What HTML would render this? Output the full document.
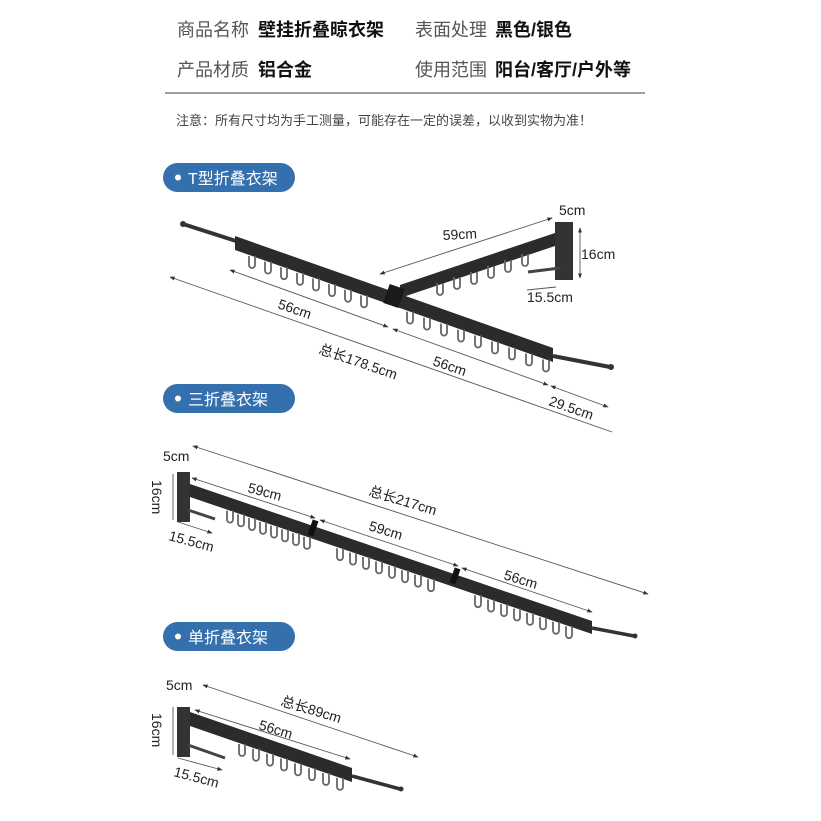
<!DOCTYPE html>
<html><head><meta charset="utf-8"><style>
html,body{margin:0;padding:0;background:#fff;}
svg{display:block;font-family:"Liberation Sans","Noto Sans CJK SC",sans-serif;}
.g{fill:#555;font-size:18px;}
.b{fill:#111;font-size:18px;font-weight:bold;}
.d{fill:#222;font-size:14px;}
.dl{stroke:#555;stroke-width:0.9;fill:none;}
</style></head><body>
<svg width="821" height="821" viewBox="0 0 821 821" xmlns="http://www.w3.org/2000/svg">
<defs>
<path id="hk" d="M-3,0 v9 a3,3 0 0 0 6,0 v-9" fill="none" stroke="#666" stroke-width="1.8"/>
<marker id="ar" viewBox="0 0 8 8" refX="7" refY="4" markerWidth="6" markerHeight="6" orient="auto-start-reverse"><path d="M0,1 L8,4 L0,7z" fill="#333"/></marker>
</defs>
<text x="177" y="36" class="g">商品名称</text><text x="258" y="36" class="b">壁挂折叠晾衣架</text>
<text x="415" y="36" class="g">表面处理</text><text x="495" y="36" class="b">黑色/银色</text>
<text x="177" y="76" class="g">产品材质</text><text x="258" y="76" class="b">铝合金</text>
<text x="415" y="76" class="g">使用范围</text><text x="495" y="76" class="b">阳台/客厅/户外等</text>
<line x1="165" y1="93" x2="645" y2="93" stroke="#666" stroke-width="1.2"/>
<text x="176" y="125" fill="#444" font-size="13">注意：所有尺寸均为手工测量，可能存在一定的误差，以收到实物为准！</text>

<g><rect x="163" y="163" width="132" height="29" rx="14.5" fill="#3370ad"/><circle cx="178" cy="177.5" r="3" fill="#fff"/><text x="188" y="184" fill="#fff" font-size="16">T型折叠衣架</text></g>
<g><rect x="163" y="384" width="132" height="29" rx="14.5" fill="#3370ad"/><circle cx="178" cy="398.5" r="3" fill="#fff"/><text x="188" y="405" fill="#fff" font-size="16">三折叠衣架</text></g>
<g><rect x="163" y="622" width="132" height="29" rx="14.5" fill="#3370ad"/><circle cx="178" cy="636.5" r="3" fill="#fff"/><text x="188" y="643" fill="#fff" font-size="16">单折叠衣架</text></g>

<line x1="183" y1="224" x2="236" y2="241" stroke="#333" stroke-width="4"/>
<circle cx="183" cy="224" r="3" fill="#333"/>
<rect x="555" y="222" width="18" height="58" fill="#333"/>
<line x1="528" y1="272" x2="560" y2="268" stroke="#444" stroke-width="3"/>
<polygon points="400,285 555,233 555,246 400,298" fill="#2b2b2b"/>
<g>
<use href="#hk" x="440" y="283"/><use href="#hk" x="457" y="277"/><use href="#hk" x="474" y="272"/><use href="#hk" x="491" y="266"/><use href="#hk" x="508" y="260"/><use href="#hk" x="525" y="254"/>
</g>
<polygon points="235,236 553,348 553,362 235,250" fill="#2b2b2b"/>
<rect x="386" y="286" width="16" height="20" fill="#1a1a1a" transform="rotate(19 394 296)"/>
<line x1="553" y1="356" x2="610" y2="367" stroke="#333" stroke-width="4"/>
<circle cx="611" cy="367" r="3" fill="#333"/>
<g>
<use href="#hk" x="252" y="256"/><use href="#hk" x="268" y="261.6"/><use href="#hk" x="284" y="267.2"/><use href="#hk" x="300" y="272.9"/><use href="#hk" x="316" y="278.5"/><use href="#hk" x="332" y="284.1"/><use href="#hk" x="348" y="289.8"/><use href="#hk" x="364" y="295.4"/>
<use href="#hk" x="410" y="311.6"/><use href="#hk" x="427" y="317.6"/><use href="#hk" x="444" y="323.6"/><use href="#hk" x="461" y="329.6"/><use href="#hk" x="478" y="335.5"/><use href="#hk" x="495" y="341.5"/><use href="#hk" x="512" y="347.5"/><use href="#hk" x="529" y="353.5"/><use href="#hk" x="546" y="359.5"/>
</g>
<line class="dl" x1="380" y1="274" x2="552" y2="218" marker-start="url(#ar)" marker-end="url(#ar)"/>
<line class="dl" x1="580" y1="228" x2="580" y2="278" marker-start="url(#ar)" marker-end="url(#ar)"/>
<line class="dl" x1="527" y1="290" x2="556" y2="287"/>
<line class="dl" x1="230" y1="270" x2="388" y2="327" marker-start="url(#ar)" marker-end="url(#ar)"/>
<line class="dl" x1="393" y1="329" x2="548" y2="385" marker-start="url(#ar)" marker-end="url(#ar)"/>
<line class="dl" x1="551" y1="386" x2="608" y2="407" marker-start="url(#ar)" marker-end="url(#ar)"/>
<line class="dl" x1="170" y1="277" x2="612" y2="432" marker-start="url(#ar)"/>
<text x="559" y="215" class="d">5cm</text>
<text x="443" y="240" class="d" transform="rotate(-3 443 240)">59cm</text>
<text x="581" y="259" class="d">16cm</text>
<text x="527" y="302" class="d">15.5cm</text>
<text x="277" y="308" class="d" transform="rotate(19 277 308)">56cm</text>
<text x="432" y="365" class="d" transform="rotate(19 432 365)">56cm</text>
<text x="318" y="353" class="d" transform="rotate(19 318 353)">总长178.5cm</text>
<text x="548" y="405" class="d" transform="rotate(19 548 405)">29.5cm</text>

<rect x="177" y="472" width="13" height="50" fill="#333"/>
<line x1="188" y1="510" x2="215" y2="519" stroke="#444" stroke-width="3"/>
<polygon points="190,484 592,621 592,634 190,497" fill="#2b2b2b"/>
<rect x="310" y="520" width="6" height="16" fill="#111" transform="rotate(19 313 528)"/>
<rect x="452" y="568" width="6" height="16" fill="#111" transform="rotate(19 455 576)"/>
<line x1="592" y1="628" x2="634" y2="636" stroke="#333" stroke-width="3.5"/>
<circle cx="635" cy="636" r="2.5" fill="#333"/>
<g>
<use href="#hk" x="230" y="510.6"/><use href="#hk" x="241" y="514.4"/><use href="#hk" x="252" y="518.1"/><use href="#hk" x="263" y="521.9"/><use href="#hk" x="274" y="525.6"/><use href="#hk" x="285" y="529.4"/><use href="#hk" x="296" y="533.1"/><use href="#hk" x="307" y="536.9"/>
<use href="#hk" x="340" y="548.2"/><use href="#hk" x="353" y="552.6"/><use href="#hk" x="366" y="557"/><use href="#hk" x="379" y="561.4"/><use href="#hk" x="392" y="565.9"/><use href="#hk" x="405" y="570.3"/><use href="#hk" x="418" y="574.7"/><use href="#hk" x="431" y="579.2"/>
<use href="#hk" x="478" y="595.2"/><use href="#hk" x="491" y="599.6"/><use href="#hk" x="504" y="604.1"/><use href="#hk" x="517" y="608.5"/><use href="#hk" x="530" y="612.9"/><use href="#hk" x="543" y="617.4"/><use href="#hk" x="556" y="621.8"/><use href="#hk" x="569" y="626.2"/>
</g>
<line class="dl" x1="193" y1="446" x2="648" y2="594" marker-start="url(#ar)" marker-end="url(#ar)"/>
<line class="dl" x1="192" y1="478" x2="315" y2="518" marker-start="url(#ar)" marker-end="url(#ar)"/>
<line class="dl" x1="320" y1="520" x2="458" y2="566" marker-start="url(#ar)" marker-end="url(#ar)"/>
<line class="dl" x1="462" y1="568" x2="592" y2="612" marker-start="url(#ar)" marker-end="url(#ar)"/>
<line class="dl" x1="173" y1="474" x2="173" y2="520"/>
<line class="dl" x1="178" y1="522" x2="212" y2="533" marker-end="url(#ar)"/>
<text x="163" y="461" class="d">5cm</text>
<text x="152" y="480" class="d" transform="rotate(90 152 480)">16cm</text>
<text x="168" y="540" class="d" transform="rotate(15 168 540)">15.5cm</text>
<text x="247" y="492" class="d" transform="rotate(15 247 492)">59cm</text>
<text x="368" y="530" class="d" transform="rotate(17 368 530)">59cm</text>
<text x="368" y="495" class="d" transform="rotate(17 368 495)">总长217cm</text>
<text x="503" y="579" class="d" transform="rotate(17 503 579)">56cm</text>

<rect x="177" y="707" width="13" height="50" fill="#333"/>
<line x1="188" y1="745" x2="225" y2="758" stroke="#444" stroke-width="3"/>
<polygon points="190,712 352,768 352,782 190,726" fill="#2b2b2b"/>
<line x1="352" y1="776" x2="400" y2="789" stroke="#333" stroke-width="3.5"/>
<circle cx="401" cy="789" r="2.5" fill="#333"/>
<g>
<use href="#hk" x="242" y="744"/><use href="#hk" x="256" y="748.8"/><use href="#hk" x="270" y="753.7"/><use href="#hk" x="284" y="758.5"/><use href="#hk" x="298" y="763.4"/><use href="#hk" x="312" y="768.2"/><use href="#hk" x="326" y="773"/><use href="#hk" x="340" y="777.9"/>
</g>
<line class="dl" x1="203" y1="685" x2="418" y2="757" marker-start="url(#ar)" marker-end="url(#ar)"/>
<line class="dl" x1="195" y1="710" x2="350" y2="759" marker-start="url(#ar)" marker-end="url(#ar)"/>
<line class="dl" x1="173" y1="707" x2="173" y2="755"/>
<line class="dl" x1="178" y1="758" x2="222" y2="770" marker-end="url(#ar)"/>
<text x="166" y="690" class="d">5cm</text>
<text x="152" y="713" class="d" transform="rotate(90 152 713)">16cm</text>
<text x="173" y="776" class="d" transform="rotate(15 173 776)">15.5cm</text>
<text x="258" y="729" class="d" transform="rotate(17 258 729)">56cm</text>
<text x="280" y="705" class="d" transform="rotate(17 280 705)">总长89cm</text>
</svg>
</body></html>
